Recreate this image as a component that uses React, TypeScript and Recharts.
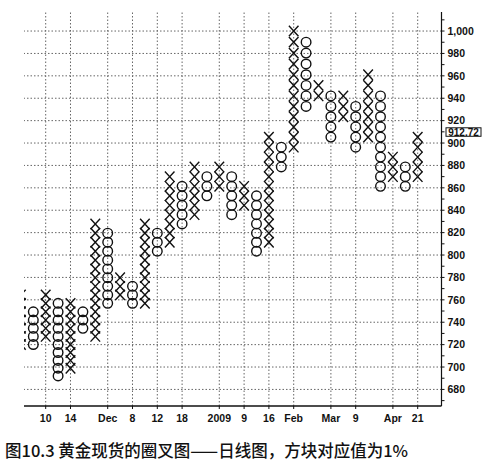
import React from "react";
import { ScatterChart, Scatter, XAxis, YAxis, ReferenceLine } from "recharts";

// point & figure columns, left to right (first one is cut off by the plot edge)
const COL_KIND = "XOXOXOXOXOXOXOXOXOXOXOXOXOXOXOXOX";
const COL_HIGH = [764, 750, 764, 757, 757, 749, 828, 820, 780, 772, 828, 820, 870, 861, 879, 870, 879, 870, 861, 853, 905, 896, 1000, 990, 952, 942, 942, 933, 961, 942, 887, 879, 905];
const COL_LOW = [720, 720, 727, 692, 699, 735, 727, 757, 764, 757, 757, 803, 811, 828, 836, 853, 861, 836, 844, 803, 811, 879, 896, 933, 942, 905, 924, 896, 905, 861, 870, 861, 870];

// box size 1%
const BOX = 0.01;
const LAST_PRICE = 912.72;

const TICK_COLS = [2, 4, 7, 9, 11, 13, 16, 18, 20, 22, 25, 27, 30, 32];
const TICK_LABELS = ["10", "14", "Dec", "8", "12", "18", "2009", "9", "16", "Feb", "Mar", "9", "Apr", "21"];

const PRICE_TICKS = [680, 700, 720, 740, 760, 780, 800, 820, 840, 860, 880, 900, 920, 940, 960, 980, 1000];
const PRICE_MINOR = [670, 690, 710, 730, 750, 770, 790, 810, 830, 850, 870, 890, 910, 930, 950, 970, 990, 1010];

const boxIndex = (p: number) => Math.round(Math.log(1000 / p) / Math.log(1 + BOX));
const boxPrice = (n: number) => 1000 / Math.pow(1 + BOX, n);

type Mark = { col: number; price: number };

const xs: Mark[] = [];
const os: Mark[] = [];
COL_KIND.split("").forEach((kind, col) => {
  const top = boxIndex(COL_HIGH[col]);
  const bottom = boxIndex(COL_LOW[col]);
  for (let n = top; n <= bottom; n++) {
    (kind === "X" ? xs : os).push({ col, price: boxPrice(n) });
  }
});

const INK = "#111";
const GRID = "#666";
const AXIS_FONT = { fontFamily: "'Liberation Sans', Arial, sans-serif", fontSize: 10.5, fontWeight: 700, fill: INK };

const XMark = (p: any) => {
  const { cx, cy } = p;
  const w = 4.8;
  const h = 5.2;
  return (
    <path
      d={`M${cx - w},${cy - h}L${cx + w},${cy + h}M${cx + w},${cy - h}L${cx - w},${cy + h}`}
      stroke={INK}
      strokeWidth={1.4}
      fill="none"
    />
  );
};

const OMark = (p: any) => (
  <circle cx={p.cx} cy={p.cy} r={4.8} stroke={INK} strokeWidth={1.4} fill="none" />
);

const PriceTick = (props: any) => {
  const { x, y, payload } = props;
  if (payload.value % 20 !== 0) return <g />;
  const label = payload.value >= 1000 ? payload.value.toLocaleString("en-US") : String(payload.value);
  return (
    <text x={x} y={y} dy={3.8} textAnchor="start" {...AXIS_FONT}>
      {label}
    </text>
  );
};

const LastPriceLabel = (props: any) => {
  const vb = props.viewBox;
  const x = vb.x + vb.width + 4.5;
  const y = vb.y - 1;
  return (
    <g>
      <rect x={x} y={y} width={35} height={8.5} fill="#fff" stroke={INK} strokeWidth={1} />
      <text x={x + 17.5} y={y + 7.8} textAnchor="middle" {...AXIS_FONT} fontSize={10}>
        {LAST_PRICE.toFixed(2)}
      </text>
    </g>
  );
};

export default function App() {
  return (
    <div style={{ position: "absolute", left: 0, top: 0, width: 491, height: 462, background: "#fff" }}>
      <ScatterChart width={491} height={462} margin={{ top: 12, left: 24, right: 5, bottom: 26 }}>
        <XAxis
          type="number"
          dataKey="col"
          domain={[0.25, 33.92]}
          allowDataOverflow
          ticks={TICK_COLS}
          interval={0}
          tickFormatter={(v: number) => TICK_LABELS[TICK_COLS.indexOf(v)] ?? ""}
          tick={AXIS_FONT}
          tickSize={3}
          tickMargin={6}
          height={30}
          axisLine={{ stroke: INK, strokeWidth: 1.5 }}
          tickLine={{ stroke: INK }}
        />
        <YAxis
          type="number"
          dataKey="price"
          orientation="right"
          domain={[665.2, 1017]}
          allowDataOverflow
          ticks={[...PRICE_TICKS, ...PRICE_MINOR].sort((a, b) => a - b)}
          interval={0}
          tick={<PriceTick />}
          tickSize={3}
          tickMargin={3}
          width={44.5}
          axisLine={{ stroke: INK, strokeWidth: 1.2 }}
          tickLine={{ stroke: INK }}
        />
        {/* dotted grid */}
        {PRICE_TICKS.map((v) => (
          <ReferenceLine key={`h${v}`} y={v} stroke={GRID} strokeWidth={1} strokeDasharray="1.5 2" />
        ))}
        {TICK_COLS.map((c) => (
          <ReferenceLine key={`v${c}`} x={c} stroke={GRID} strokeWidth={1} strokeDasharray="1.5 2" />
        ))}
        <Scatter data={xs} shape={XMark} isAnimationActive={false} />
        <Scatter data={os} shape={OMark} isAnimationActive={false} />
        <ReferenceLine y={LAST_PRICE} stroke="none" label={LastPriceLabel} />
      </ScatterChart>
      <div
        style={{
          position: "absolute",
          left: 5,
          top: 441,
          fontFamily: "'Noto Sans CJK SC', sans-serif",
          fontSize: 16.5,
          lineHeight: "19px",
          fontWeight: 500,
          color: INK,
          whiteSpace: "nowrap",
        }}
      >
        图10.3 黄金现货的圈叉图——日线图，方块对应值为1%
      </div>
    </div>
  );
}
